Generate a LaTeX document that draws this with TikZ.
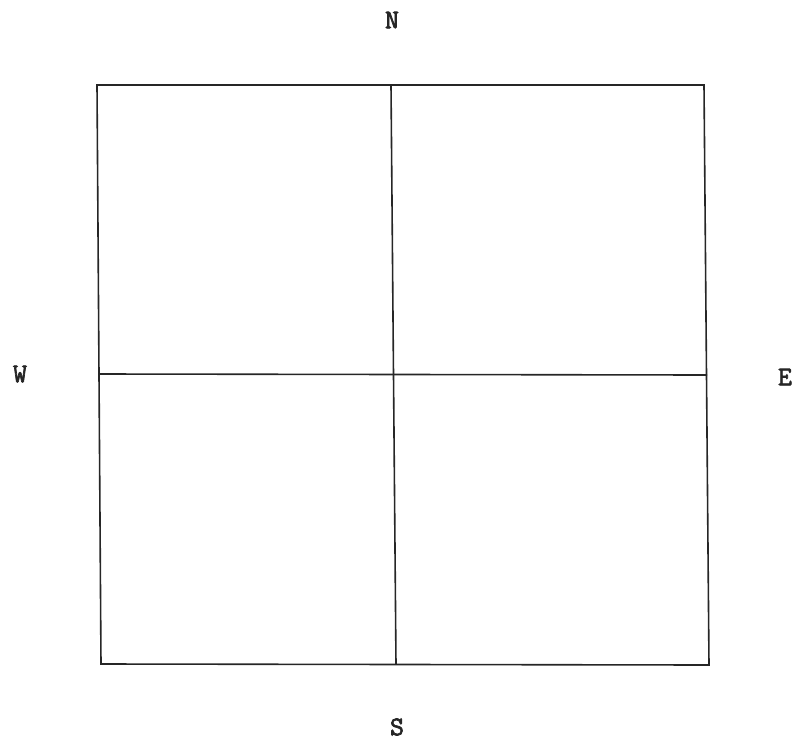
\documentclass[tikz,border=0pt]{standalone}
\usepackage{fontspec}
\newfontfamily\dirfont[FakeBold=2.5]{Latin Modern Mono}
\begin{document}
\begin{tikzpicture}[x=1pt,y=-1pt,
  edge/.style={line width=1.6pt,draw=black!85},
  dirlabel/.style={font=\dirfont\fontsize{27}{27}\selectfont,inner sep=0pt,text=black!85}]
\useasboundingbox (0,0) rectangle (793,742);
\coordinate (tl) at (97,85);
\coordinate (tr) at (704,85);
\coordinate (br) at (709,665);
\coordinate (bl) at (101,664);
\coordinate (vt) at (391,85);
\coordinate (vb) at (396,664.5);
\coordinate (hl) at (99,374);
\coordinate (hr) at (707,375);
\draw[edge,line join=miter] (tl) -- (tr) -- (br) -- (bl) -- cycle;
\draw[edge] (vt) -- (vb);
\draw[edge] (hl) -- (hr);
\node[dirlabel] (n) at (392,20) {N};
\node[dirlabel] (w) at (20,374) {W};
\node[dirlabel] (e) at (785,377) {E};
\node[dirlabel] (s) at (397,727) {S};
\end{tikzpicture}
\end{document}
